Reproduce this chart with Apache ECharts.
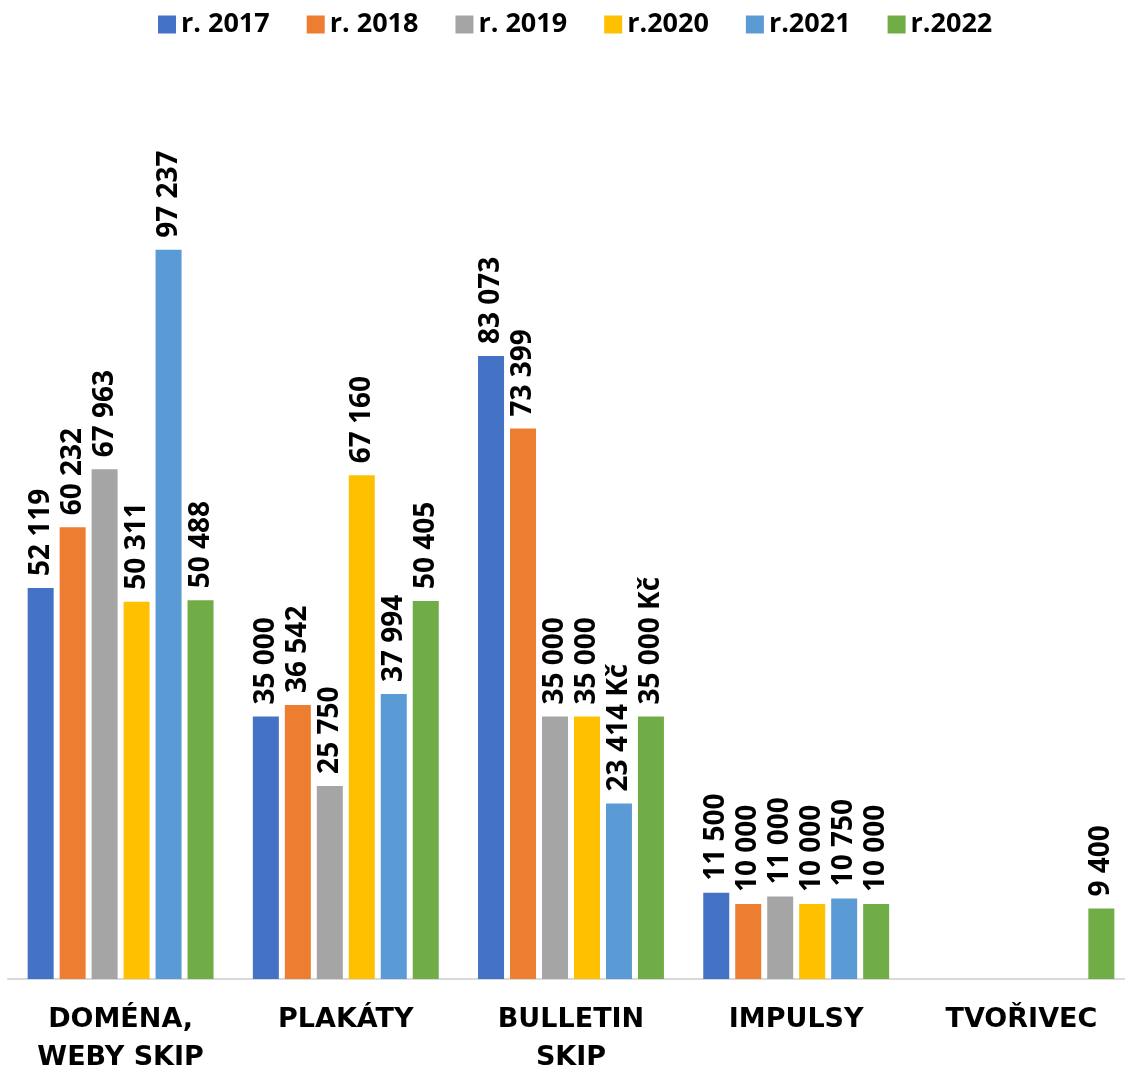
<!DOCTYPE html>
<html>
<head>
<meta charset="utf-8">
<script src="https://cdn.jsdelivr.net/npm/echarts@6/dist/echarts.min.js"></script>
<style>
  html, body { margin: 0; padding: 0; background: #fff; overflow: hidden; }
  #container { width: 1125px; height: 1071px; }
</style>
</head>
<body>
<div id="container"></div>
<script>
// kategorie a roky
var categories = ['DOMÉNA,\nWEBY SKIP', 'PLAKÁTY', 'BULLETIN\nSKIP', 'IMPULSY', 'TVOŘIVEC'];
var years = ['r. 2017', 'r. 2018', 'r. 2019', 'r.2020', 'r.2021', 'r.2022'];
var colors = ['#4472C4', '#ED7D31', '#A5A5A5', '#FFC000', '#5B9BD5', '#70AD47'];

// hodnoty po rocich (Kč)
var v2017 = [52119, 35000, 83073, 11500, null];
var v2018 = [60232, 36542, 73399, 10000, null];
var v2019 = [67963, 25750, 35000, 11000, null];
var v2020 = [50311, 67160, 35000, 10000, null];
var v2021 = [97237, 37994, 23414, 10750, null];
var v2022 = [50488, 50405, 35000, 10000, 9400];
var values = [v2017, v2018, v2019, v2020, v2021, v2022];

// popisky s "Kč" [serie, kategorie]
var withKc = [[4, 2], [5, 2]];

function fmt(v) {
    return String(v).replace(/\B(?=(\d{3})+(?!\d))/g, ' ');
}

var series = [];
for (var i = 0; i < years.length; i++) {
    (function (si) {
        series.push({
            name: years[si],
            type: 'bar',
            data: values[si],
            barWidth: 26,
            barGap: '23%',
            itemStyle: { color: colors[si] },
            label: {
                show: true,
                position: 'top',
                rotate: 90,
                align: 'left',
                verticalAlign: 'middle',
                distance: 12,
                color: '#000',
                fontFamily: 'Open Sans',
                fontWeight: 'bold',
                fontSize: 28,
                formatter: function (p) {
                    if (p.value == null) return '';
                    var s = fmt(p.value);
                    for (var k = 0; k < withKc.length; k++) {
                        if (withKc[k][0] === si && withKc[k][1] === p.dataIndex) s += ' Kč';
                    }
                    return s;
                }
            }
        });
    })(i);
}

var myChart = echarts.init(document.getElementById('container'));
var option = {
    animation: false,
    legend: {
        top: 11,
        left: 158,
        padding: 0,
        icon: 'rect',
        itemWidth: 18,
        itemHeight: 18,
        itemGap: 37,
        textStyle: {
            color: '#000',
            fontFamily: 'Open Sans',
            fontWeight: 'bold',
            fontSize: 27
        },
        data: years
    },
    grid: { left: 8, top: 79, width: 1126, height: 900, outerBoundsMode: 'none' },
    xAxis: {
        type: 'category',
        data: categories,
        axisTick: { show: false },
        axisLine: { lineStyle: { color: '#D9D9D9', width: 2 } },
        axisLabel: {
            margin: 22,
            color: '#000',
            fontFamily: 'DejaVu Sans',
            fontWeight: 'bold',
            fontSize: 27,
            lineHeight: 38,
            interval: 0
        }
    },
    yAxis: {
        type: 'value',
        min: 0,
        max: 120000,
        show: false,
        splitLine: { show: false }
    },
    series: series
};
myChart.setOption(option);
</script>
</body>
</html>
